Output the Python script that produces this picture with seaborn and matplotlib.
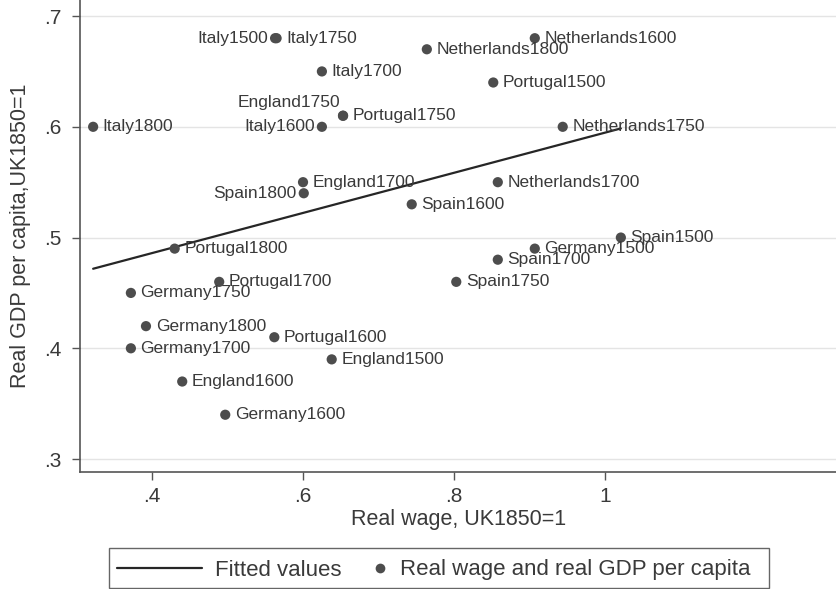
import matplotlib
matplotlib.use("Agg")
import matplotlib.pyplot as plt
import pandas as pd
import seaborn as sns
from matplotlib.lines import Line2D
from matplotlib.patches import Rectangle
from matplotlib.legend_handler import HandlerLine2D

# Country-year observations
labels = [
    "Italy1500", "Italy1600", "Italy1700", "Italy1750", "Italy1800",
    "Netherlands1600", "Netherlands1700", "Netherlands1750", "Netherlands1800",
    "England1500", "England1600", "England1700", "England1750",
    "Spain1500", "Spain1600", "Spain1700", "Spain1750", "Spain1800",
    "Portugal1500", "Portugal1600", "Portugal1700", "Portugal1750", "Portugal1800",
    "Germany1500", "Germany1600", "Germany1700", "Germany1750", "Germany1800",
]
# Real wage, UK1850=1
wage = [
    0.563, 0.625, 0.625, 0.565, 0.322,
    0.907, 0.858, 0.944, 0.764,
    0.638, 0.440, 0.600, 0.653,
    1.021, 0.744, 0.858, 0.803, 0.601,
    0.852, 0.562, 0.489, 0.653, 0.430,
    0.907, 0.497, 0.372, 0.372, 0.392,
]
# Real GDP per capita, UK1850=1
gdp = [
    0.68, 0.60, 0.65, 0.68, 0.60,
    0.68, 0.55, 0.60, 0.67,
    0.39, 0.37, 0.55, 0.61,
    0.50, 0.53, 0.48, 0.46, 0.54,
    0.64, 0.41, 0.46, 0.61, 0.49,
    0.49, 0.34, 0.40, 0.45, 0.42,
]
x_ticks = [0.4, 0.6, 0.8, 1.0]
x_tick_labels = [".4", ".6", ".8", "1"]
y_ticks = [0.3, 0.4, 0.5, 0.6, 0.7]
y_tick_labels = [".3", ".4", ".5", ".6", ".7"]

df = pd.DataFrame({"label": labels, "wage": wage, "gdp": gdp})

# where each marker label sits relative to its point (default: right)
label_offsets = {
    "Italy1500": ("left", (-5, 0)),
    "Italy1600": ("left", (-5, 0)),
    "Spain1800": ("left", (-5, 0)),
    "England1750": ("left", (-2, 9.5)),
}


class EndMarkerHandler(HandlerLine2D):
    """Legend handler that puts a single marker near the right end of the key."""

    def get_xdata(self, legend, xdescent, ydescent, width, height, fontsize):
        mx = -xdescent + width - 4.5
        return [mx - 1, mx + 1], [mx]


sns.set_theme(style="white")
plt.rcParams["font.family"] = ["Liberation Sans", "DejaVu Sans"]

ink = "#3a3a3a"
dot = "#4d4d4d"
W, H = 837, 589

fig = plt.figure(figsize=(W / 100, H / 100), dpi=100)
ax = fig.add_axes([80 / W, 1 - 472 / H, 757 / W, 472 / H])

ax.set_xlim(0.3046, 1.3073)
ax.set_ylim(0.2883, 0.7145)

for y in y_ticks:
    ax.axhline(y, color="#e4e4e4", lw=1.0, zorder=0)

sns.regplot(data=df, x="wage", y="gdp", scatter=False, ci=None, ax=ax,
            line_kws={"color": "#262626", "lw": 1.6, "zorder": 2})
sns.scatterplot(data=df, x="wage", y="gdp", ax=ax, color=dot, s=54,
                edgecolor="none", zorder=3, legend=False)

for lab, xv, yv in zip(labels, wage, gdp):
    side, off = label_offsets.get(lab, ("right", (7, 0)))
    ha = "right" if side == "left" else "left"
    ax.annotate(lab, (xv, yv), xytext=off, textcoords="offset points",
                ha=ha, va="center", fontsize=12.5, color=ink, zorder=4)

ax.set_xticks(x_ticks)
ax.set_xticklabels(x_tick_labels)
ax.set_yticks(y_ticks)
ax.set_yticklabels(y_tick_labels)
ax.tick_params(axis="both", which="major", length=6, width=1.0, color="#555555",
               labelsize=15, labelcolor=ink, direction="out",
               bottom=True, left=True)
ax.tick_params(axis="x", pad=5)
ax.tick_params(axis="y", pad=7)

ax.set_xlabel("Real wage, UK1850=1", fontsize=15.5, color=ink, labelpad=2)
ax.set_ylabel("Real GDP per capita,UK1850=1", fontsize=15.5, color=ink, labelpad=10)

for side in ("top", "right"):
    ax.spines[side].set_visible(False)
for side in ("left", "bottom"):
    ax.spines[side].set_color("#555555")
    ax.spines[side].set_linewidth(1.2)

# legend box below the plot
fig.patches.append(Rectangle((109 / W, 1 - 588 / H), (769 - 109) / W, 40 / H,
                             transform=fig.transFigure, facecolor="white",
                             edgecolor="#666666", lw=1.0, zorder=1))

line_key = Line2D([], [], color="#262626", lw=1.6)
dot_key = Line2D([], [], color=dot, marker="o", ls="none", markersize=7,
                 markeredgecolor="none")
leg = fig.legend([line_key, dot_key],
                 ["Fitted values", "Real wage and real GDP per capita"],
                 handler_map={dot_key: EndMarkerHandler()},
                 loc="center left", bbox_to_anchor=(117 / W, 1 - 570 / H),
                 ncol=2, frameon=False, fontsize=16,
                 handlelength=3.83, handletextpad=0.585, columnspacing=-1.8,
                 borderpad=0, borderaxespad=0)
leg.set_zorder(2)
for t in leg.get_texts():
    t.set_color(ink)

fig.savefig("out.png", dpi=100, facecolor="white")
